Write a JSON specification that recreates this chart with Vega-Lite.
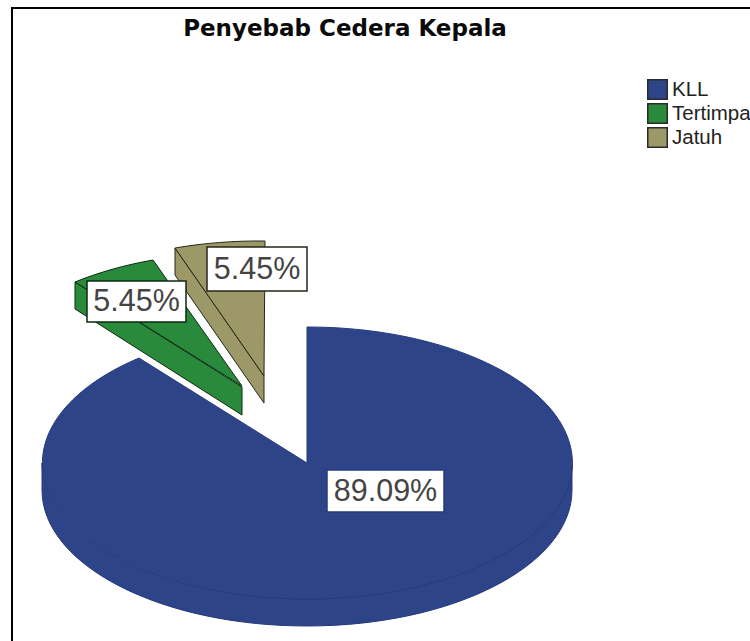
{
  "$schema": "https://vega.github.io/schema/vega-lite/v6.json",
  "width": 750,
  "height": 641,
  "padding": 0,
  "autosize": {"type": "none"},
  "background": "white",
  "view": {"stroke": null},
  "title": {
    "text": "Penyebab Cedera Kepala",
    "font": "DejaVu Sans",
    "fontWeight": "bold",
    "fontSize": 23,
    "color": "#0a0a0a",
    "anchor": "middle",
    "baseline": "alphabetic",
    "offset": 0,
    "dx": -30,
    "dy": 59
  },
  "data": {
    "values": [
      {"kategori": "KLL", "persen": 0.8909},
      {"kategori": "Tertimpa", "persen": 0.0545},
      {"kategori": "Jatuh", "persen": 0.0545}
    ]
  },
  "resolve": {"scale": {"shape": "independent"}, "legend": {"shape": "independent", "stroke": "independent"}},
  "layer": [
    {
      "description": "Outer frame, open on the right and at the bottom",
      "transform": [{"filter": "datum.kategori === 'KLL'"}],
      "mark": {"type": "point", "filled": false, "opacity": 1, "size": 4, "stroke": "#000000", "strokeWidth": 2, "shape": "M375,-312.5L-363,-312.5L-363,320.5"}
    },
    {
      "description": "Side walls of the tilted pie",
      "mark": {"type": "point", "filled": true, "opacity": 1, "size": 4, "strokeWidth": 1},
      "encoding": {
        "fill": {
          "field": "kategori",
          "type": "nominal",
          "sort": null,
          "scale": {"domain": ["KLL", "Tertimpa", "Jatuh"], "range": ["#2e4489", "#2a8a3c", "#9c9867"]},
          "legend": {
            "title": null,
            "orient": "none",
            "legendX": 647,
            "legendY": 79,
            "padding": 0,
            "symbolType": "square",
            "symbolSize": 380,
            "symbolStrokeColor": "#2a2a2a",
            "symbolStrokeWidth": 1.5,
            "symbolOpacity": 1,
            "labelFont": "Liberation Sans",
            "labelFontSize": 20.5,
            "labelColor": "#222222",
            "labelLimit": 200,
            "labelOffset": 4,
            "rowPadding": -4,
            "encode": {
              "symbols": {
                "update": {
                  "shape": {"value": "square"},
                  "size": {"value": 380},
                  "stroke": {"value": "#2a2a2a"},
                  "fill": {"signal": "datum.value === 'KLL' ? '#3555a8' : datum.value === 'Tertimpa' ? '#22a645' : '#cfcd98'"}
                }
              }
            }
          }
        },
        "stroke": {
          "field": "kategori",
          "type": "nominal",
          "sort": null,
          "scale": {"domain": ["KLL", "Tertimpa", "Jatuh"], "range": ["#273a7c", "#0d2a12", "#26261a"]},
          "legend": null
        },
        "shape": {
          "field": "kategori",
          "type": "nominal",
          "sort": null,
          "scale": {
            "domain": ["KLL", "Tertimpa", "Jatuh"],
            "range": [
              "M-333,142.5 A265,136 0 0 0 197,142.5 L197,169.5 A265,136 0 0 1 -333,169.5 Z",
              "M-300,-38.5 L-133,66.5 L-133,94.5 L-300,-11.5 Z",
              "M-200,-72.5 L-111,55.5 L-111,82.5 L-200,-45.5 Z"
            ]
          },
          "legend": null
        }
      }
    },
    {
      "description": "Top faces: each slice sweeps 360 degrees times its share",
      "mark": {"type": "point", "filled": true, "opacity": 1, "size": 4, "strokeWidth": 1},
      "encoding": {
        "fill": {"field": "kategori", "type": "nominal", "sort": null, "legend": null},
        "stroke": {"field": "kategori", "type": "nominal", "sort": null, "legend": null},
        "shape": {
          "field": "kategori",
          "type": "nominal",
          "sort": null,
          "scale": {
            "domain": ["KLL", "Tertimpa", "Jatuh"],
            "range": [
              "M-68,142.5 L-68,6.5 A265,136 0 1 1 -236,37.5 Z",
              "M-133,65.5 L-300,-38.5 A265,136 0 0 1 -222,-60.5 Z",
              "M-111,55.5 L-200,-72.5 A265,136 0 0 1 -110,-79.5 Z"
            ]
          },
          "legend": null
        }
      }
    },
    {
      "description": "White boxes behind the percentage labels",
      "mark": {"type": "point", "filled": true, "opacity": 1, "size": 4, "fill": "#ffffff", "strokeWidth": 1.5},
      "encoding": {
        "stroke": {"field": "kategori", "type": "nominal", "sort": null, "legend": null},
        "shape": {
          "field": "kategori",
          "type": "nominal",
          "sort": null,
          "scale": {
            "domain": ["KLL", "Tertimpa", "Jatuh"],
            "range": [
              "M-48,149.5 L69,149.5 L69,191.5 L-48,191.5 Z",
              "M-288,-39.5 L-189,-39.5 L-189,1.5 L-288,1.5 Z",
              "M-168,-73.5 L-68,-73.5 L-68,-29.5 L-168,-29.5 Z"
            ]
          },
          "legend": null
        }
      }
    },
    {
      "transform": [{"filter": "datum.kategori === 'KLL'"}],
      "mark": {"type": "text", "font": "Liberation Sans", "fontSize": 30.5, "color": "#444444", "align": "center", "baseline": "middle", "dx": 10.5, "dy": 171.5},
      "encoding": {"text": {"field": "persen", "type": "quantitative", "format": ".2%"}}
    },
    {
      "transform": [{"filter": "datum.kategori === 'Tertimpa'"}],
      "mark": {"type": "text", "font": "Liberation Sans", "fontSize": 30.5, "color": "#444444", "align": "center", "baseline": "middle", "dx": -238.5, "dy": -19},
      "encoding": {"text": {"field": "persen", "type": "quantitative", "format": ".2%"}}
    },
    {
      "transform": [{"filter": "datum.kategori === 'Jatuh'"}],
      "mark": {"type": "text", "font": "Liberation Sans", "fontSize": 30.5, "color": "#444444", "align": "center", "baseline": "middle", "dx": -118, "dy": -50.5},
      "encoding": {"text": {"field": "persen", "type": "quantitative", "format": ".2%"}}
    }
  ]
}
